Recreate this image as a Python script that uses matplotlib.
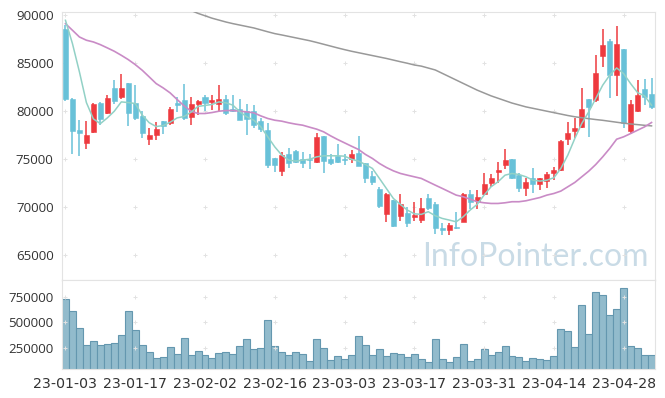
import matplotlib
matplotlib.use("Agg")
import matplotlib.pyplot as plt
import numpy as np

# daily candles, 23-01-03 .. 23-05-08 (85 trading days)
opens = [88611, 81320, 78020, 76700, 77850, 80830, 79860, 82400, 81500, 82990,
         80900, 79480, 77150, 77500, 78960, 78820, 80900, 81150, 79410, 80760,
         81460, 80970, 80760, 81320, 80210, 80280, 80000, 80000, 78960, 78020,
         75070, 73780, 75490, 75870, 74970, 75000, 74720, 77390, 75000, 75350,
         74970, 74970, 75630, 74550, 73230, 71880, 69240, 70730, 69100, 69340,
         68960, 68650, 70970, 70280, 67850, 67610, 67900, 68470, 71320, 70660,
         71320, 72470, 73610, 74370, 75000, 73330, 72010, 73060, 72430, 72740,
         73580, 73860, 77150, 77950, 78370, 81320, 81150, 85760, 87290, 83750,
         86460, 77920, 80000, 82290, 81840]
closes = [81250, 77920, 77740, 77500, 80730, 79200, 81350, 81080, 82470, 79860,
          79310, 77710, 77570, 78130, 78470, 80280, 80630, 79240, 80800, 81040,
          80870, 81150, 81320, 79860, 80070, 79060, 79170, 78540, 78130, 74380,
          74380, 75420, 74650, 74720, 74650, 74860, 77260, 74830, 74620, 74720,
          74860, 75520, 74300, 72990, 72640, 70140, 71320, 68060, 70280, 68370,
          69170, 69930, 69860, 67780, 67610, 68130, 67800, 71320, 70490, 71010,
          72360, 73060, 73860, 74900, 73060, 72010, 72640, 72400, 72990, 73440,
          73860, 76870, 77710, 78230, 80210, 80450, 84030, 86940, 83750, 87050,
          78720, 80700, 81670, 81490, 80450]
highs = [89000, 81400, 79060, 78960, 80900, 80970, 81740, 83230, 83850, 82990,
         82780, 80000, 78260, 78890, 79000, 80450, 81490, 82880, 81430, 81150,
         81740, 81740, 82780, 81740, 81670, 81250, 80700, 80630, 79310, 78820,
         75070, 75770, 76180, 76000, 75760, 75490, 77740, 77390, 75490, 76630,
         75490, 75940, 77390, 74550, 73750, 72120, 71420, 70730, 71320, 70030,
         70490, 70900, 71320, 70560, 68300, 68300, 69450, 71420, 71770, 71770,
         73510, 73410, 74720, 76110, 75000, 73510, 73060, 74030, 73060, 73680,
         74200, 77000, 78890, 79310, 82430, 81320, 85900, 88610, 87500, 88890,
         86460, 81150, 83230, 83330, 83470]
lows = [81100, 75500, 75350, 76110, 77680, 78610, 79690, 80730, 81250, 78470,
        79060, 77220, 76460, 76980, 77670, 78610, 79930, 79060, 78540, 79650,
        80000, 80100, 80000, 79650, 79930, 79060, 77500, 78200, 77850, 74030,
        73680, 73260, 74100, 74550, 74030, 73960, 74550, 73510, 74440, 74650,
        74380, 74550, 74300, 72470, 72290, 69860, 68400, 67950, 68540, 67950,
        68540, 68300, 69690, 67150, 67080, 67080, 67700, 68400, 69790, 69790,
        71250, 72120, 72470, 73960, 72950, 71600, 71180, 71420, 71770, 72010,
        72810, 73800, 76460, 77220, 78260, 77320, 80970, 84620, 81390, 81600,
        78260, 77670, 79930, 80620, 80210]
volumes = [730000, 611000, 442000, 274000, 313000, 274000, 287000, 294000, 373000, 611000,
           423000, 274000, 204000, 145000, 155000, 254000, 185000, 343000, 175000, 214000,
           175000, 145000, 194000, 204000, 185000, 264000, 333000, 234000, 244000, 522000,
           264000, 204000, 175000, 204000, 185000, 115000, 333000, 244000, 125000, 165000,
           135000, 175000, 363000, 274000, 175000, 234000, 165000, 194000, 185000, 155000,
           185000, 135000, 105000, 333000, 135000, 105000, 155000, 284000, 115000, 135000,
           234000, 175000, 204000, 264000, 165000, 155000, 115000, 145000, 135000, 125000,
           165000, 433000, 413000, 254000, 671000, 383000, 800000, 770000, 571000, 631000,
           839000, 264000, 244000, 175000, 175000]
ma5 = [89480, 87050, 84100, 80900, 79200, 78700, 79300, 80000, 80970, 80900,
       80800, 79600, 78800, 78400, 78500, 78850, 79300, 79450, 79900, 80500,
       80600, 80700, 80970, 80870, 80630, 79930, 79410, 79060, 78370, 77330,
       76280, 75420, 74900, 74800, 74900, 74990, 75240, 75350, 75350, 75350,
       75310, 74990, 74790, 74440, 74030, 72990, 71940, 70900, 70280, 69690,
       69300, 69240, 69520, 69100, 68820, 68650, 68470, 68990, 69690, 70280,
       71250, 72120, 72640, 73330, 73510, 73400, 73160, 72810, 72710, 72810,
       73060, 74030, 75420, 77150, 78720, 79930, 81320, 82710, 83750, 84510,
       83920, 82880, 81940, 81600, 80630]
ma20 = [89130, 88440, 87740, 87400, 87220, 86940, 86600, 86250, 85830, 85380,
        84860, 84270, 83580, 82880, 82430, 81910, 81220, 80560, 80000, 79760,
        79760, 79860, 80000, 80070, 80070, 80000, 79930, 79830, 79510, 79240,
        79060, 78960, 78790, 78650, 78540, 78330, 78130, 77850, 77430, 77050,
        76700, 76350, 76010, 75490, 75070, 74550, 74130, 73780, 73510, 73330,
        73160, 72990, 72640, 72290, 71950, 71600, 71250, 71080, 70830, 70560,
        70450, 70380, 70380, 70450, 70560, 70560, 70660, 70830, 71000, 71250,
        71420, 71670, 72120, 72570, 73160, 73750, 74440, 75240, 76110, 77080,
        77330, 77670, 78020, 78370, 78820]
nan = float("nan")
ma60 = [nan] * 18 + [
        90500, 90200, 89950, 89700, 89500, 89300, 89130, 88980, 88830, 88680,
        88480, 88280, 88090, 87950, 87800, 87650, 87500, 87350, 87170, 86980,
        86790, 86600, 86420, 86250, 86100, 85950, 85800, 85650, 85500, 85330,
        85160, 85000, 84820, 84700, 84500, 84300, 83950, 83600, 83250, 82900,
        82550, 82200, 81900, 81600, 81350, 81100, 80850, 80650, 80450, 80300,
        80150, 80000, 79850, 79700, 79550, 79420, 79320, 79220, 79130, 79050,
        78950, 78850, 78750, 78670, 78600, 78530, 78470]
tick_labels = ['23-01-03', '23-01-17', '23-02-02', '23-02-16', '23-03-03',
               '23-03-17', '23-03-31', '23-04-14', '23-04-28']
price_ticks = [65000, 70000, 75000, 80000, 85000, 90000]
vol_ticks = [250000, 500000, 750000]

plt.rcParams['font.family'] = ['Open Sans', 'DejaVu Sans']
UP, DOWN = '#ee3a3f', '#68c1d8'

fig = plt.figure(figsize=(6.65, 3.98), dpi=100)
ax = fig.add_axes([0.0932, 0.2965, 0.8918, 0.6735])
axv = fig.add_axes([0.0932, 0.0729, 0.8918, 0.2236], sharex=ax)

x = np.arange(len(opens))
o, c, h, l = map(np.array, (opens, closes, highs, lows))
col = np.where(c >= o, UP, DOWN)

ax.vlines(x, l, h, colors=col, linewidth=1.1, zorder=2)
ax.bar(x, np.maximum(np.abs(c - o), 60), bottom=np.minimum(o, c), width=0.72,
       color=col, edgecolor=col, linewidth=0.4, zorder=3)
ax.plot(x, ma60, color='#999999', linewidth=1.1, zorder=4)
ax.plot(x, ma20, color='#c98bc6', linewidth=1.2, zorder=4)
ax.plot(x, ma5, color='#92d1c6', linewidth=1.1, zorder=4)

axv.bar(x, volumes, width=1.0, color='#92bbcc', edgecolor='#6497af', linewidth=0.8)

tick_pos = np.arange(0, len(opens), 10)[:len(tick_labels)]
for a, yt in ((ax, price_ticks), (axv, vol_ticks)):
    gx, gy = np.meshgrid(tick_pos, yt)
    a.scatter(gx.ravel(), gy.ravel(), marker='+', s=10, color='#e2e2e2', linewidths=0.7, zorder=1)
    a.set_yticks(yt)
    a.tick_params(length=0, labelsize=9.5, labelcolor='#333333', pad=6)
    for s in a.spines.values():
        s.set_color('#e3e3e3')

ax.set_xlim(-0.5, len(opens) - 0.5)
ax.set_ylim(62400, 90350)
axv.set_ylim(38700, 921600)
axv.set_xticks(tick_pos)
axv.set_xticklabels(tick_labels, fontfamily='DejaVu Sans', fontsize=10.2)
plt.setp(ax.get_xticklabels(), visible=False)

ax.text(0.99, 0.03, 'InfoPointer.com', transform=ax.transAxes, ha='right', va='bottom',
        fontsize=23, fontfamily='Lato', color='#c9dbe6', zorder=0)

fig.savefig('out.png', dpi=100)
